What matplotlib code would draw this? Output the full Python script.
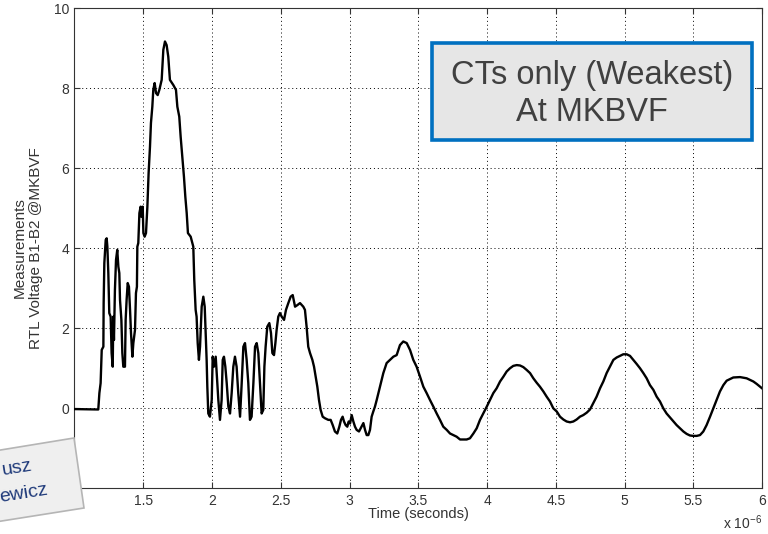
import matplotlib
matplotlib.use('Agg')
import matplotlib.pyplot as plt
import numpy as np

plt.rcParams['font.family'] = ['Liberation Sans', 'DejaVu Sans']
plt.rcParams['mathtext.default'] = 'regular'

# time in microseconds, voltage
burst_t = [1.000, 1.173, 1.181, 1.190, 1.198, 1.210, 1.212, 1.217, 1.227, 1.234,
           1.239, 1.246, 1.253, 1.263, 1.270, 1.278, 1.282, 1.287, 1.294, 1.302,
           1.311, 1.319, 1.326, 1.331, 1.341, 1.348, 1.355, 1.367, 1.372, 1.379,
           1.387, 1.396, 1.404, 1.411, 1.421, 1.428, 1.440, 1.447, 1.454]
burst_v = [-0.02, -0.03, 0.38, 0.63, 1.46, 1.54, 2.63, 3.63, 4.21, 4.25,
           4.04, 3.38, 2.38, 2.29, 1.38, 1.04, 2.29, 1.71, 2.96, 3.71,
           3.96, 3.54, 3.38, 2.71, 2.21, 1.38, 1.04, 1.04, 2.21, 2.71,
           3.13, 3.04, 2.46, 1.88, 1.29, 1.63, 1.96, 2.88, 3.04]

peak_t = [1.457, 1.464, 1.472, 1.481, 1.486, 1.496, 1.501, 1.510, 1.520, 1.530,
          1.539, 1.549, 1.556, 1.566, 1.573, 1.583, 1.593, 1.605, 1.617, 1.634,
          1.646, 1.658, 1.670, 1.682, 1.694, 1.719, 1.738, 1.748, 1.762, 1.772,
          1.784, 1.796, 1.806, 1.816, 1.825, 1.845, 1.864, 1.871, 1.881, 1.888,
          1.896, 1.905, 1.913, 1.925, 1.937, 1.947, 1.954, 1.961]
peak_v = [4.04, 4.13, 4.88, 5.04, 4.79, 5.04, 4.38, 4.29, 4.38, 5.04,
          5.88, 6.54, 7.13, 7.54, 7.96, 8.13, 7.88, 7.83, 7.96, 8.21,
          8.96, 9.17, 9.08, 8.79, 8.21, 8.08, 7.96, 7.54, 7.29, 6.79,
          6.29, 5.79, 5.29, 4.88, 4.38, 4.29, 4.04, 3.21, 2.46, 2.29,
          1.63, 1.21, 1.54, 2.54, 2.79, 2.54, 1.88, 1.21]

ring_t = [1.966, 1.973, 1.985, 1.998, 2.005, 2.014, 2.027, 2.034, 2.046, 2.058,
          2.070, 2.078, 2.087, 2.097, 2.107, 2.119, 2.131, 2.143, 2.155, 2.167,
          2.179, 2.191, 2.204, 2.216, 2.228, 2.240, 2.252, 2.264, 2.276, 2.288,
          2.301, 2.313, 2.325, 2.337, 2.349, 2.361, 2.373]
ring_v = [0.54, -0.13, -0.21, 0.21, 1.29, 1.04, 1.29, 0.88, 0.21, -0.29,
          0.21, 1.21, 1.29, 1.04, 0.63, 0.04, -0.13, 0.38, 1.04, 1.29,
          1.04, 0.38, -0.21, 0.63, 1.54, 1.63, 1.21, 0.63, -0.29, -0.21,
          0.63, 1.54, 1.63, 1.38, 0.63, -0.13, -0.04]

hump_t = [2.381, 2.390, 2.402, 2.417, 2.429, 2.439, 2.451, 2.461, 2.470, 2.482,
          2.494, 2.507, 2.524, 2.538, 2.555, 2.572, 2.587, 2.604, 2.621, 2.640,
          2.664, 2.676, 2.688, 2.700, 2.713, 2.730, 2.742, 2.754, 2.766, 2.778,
          2.790, 2.805, 2.822, 2.846, 2.863, 2.878, 2.894, 2.911, 2.926, 2.938,
          2.950, 2.960, 2.972, 2.984, 2.994, 3.004, 3.016, 3.028, 3.040, 3.052,
          3.069]
hump_v = [1.04, 1.54, 2.04, 2.13, 1.88, 1.38, 1.33, 1.63, 1.96, 2.29,
          2.38, 2.29, 2.21, 2.46, 2.63, 2.79, 2.83, 2.54, 2.58, 2.63,
          2.54, 2.46, 2.04, 1.54, 1.38, 1.21, 1.04, 0.79, 0.54, 0.21,
          -0.04, -0.21, -0.25, -0.29, -0.29, -0.42, -0.58, -0.63, -0.46, -0.29,
          -0.21, -0.33, -0.42, -0.46, -0.33, -0.38, -0.17, -0.33, -0.46, -0.54,
          -0.58]

tail_t = [3.101, 3.113, 3.125, 3.137, 3.149, 3.161, 3.173, 3.185, 3.198, 3.222,
          3.246, 3.270, 3.294, 3.319, 3.343, 3.367, 3.391, 3.416, 3.440, 3.464,
          3.488, 3.513, 3.537, 3.561, 3.585, 3.610, 3.634, 3.658, 3.682, 3.707,
          3.731, 3.755, 3.779, 3.804, 3.852, 3.876, 3.901, 3.925, 3.949, 3.973,
          3.998, 4.022, 4.046, 4.070, 4.095, 4.119, 4.143, 4.167, 4.191, 4.216,
          4.240, 4.264, 4.288, 4.313, 4.337, 4.361, 4.385, 4.410, 4.434, 4.458,
          4.482, 4.507, 4.531, 4.555, 4.579, 4.604, 4.628, 4.652, 4.676, 4.700,
          4.725, 4.749, 4.773, 4.797, 4.822, 4.846, 4.870, 4.894, 4.919, 4.943,
          4.967, 4.991, 5.016, 5.040, 5.064, 5.088, 5.113, 5.137, 5.161, 5.185,
          5.210, 5.234, 5.258, 5.282, 5.306, 5.331, 5.355, 5.379, 5.403, 5.428,
          5.452, 5.476, 5.500, 5.525, 5.549, 5.573, 5.597, 5.622, 5.646, 5.670,
          5.694, 5.719, 5.743, 5.767, 5.791, 5.840, 5.888, 5.912, 5.937, 5.961,
          6.000]
tail_v = [-0.37, -0.54, -0.67, -0.67, -0.54, -0.21, -0.08, 0.04, 0.21, 0.54,
          0.88, 1.13, 1.21, 1.29, 1.33, 1.58, 1.67, 1.63, 1.46, 1.21,
          1.04, 0.79, 0.54, 0.38, 0.21, 0.04, -0.13, -0.29, -0.46, -0.54,
          -0.63, -0.67, -0.71, -0.78, -0.78, -0.75, -0.63, -0.50, -0.29, -0.13,
          0.04, 0.21, 0.38, 0.50, 0.67, 0.79, 0.92, 1.00, 1.06, 1.08,
          1.07, 1.03, 0.96, 0.88, 0.75, 0.64, 0.54, 0.42, 0.29, 0.17,
          0.00, -0.08, -0.21, -0.28, -0.33, -0.35, -0.33, -0.28, -0.21, -0.17,
          -0.11, -0.03, 0.13, 0.29, 0.50, 0.67, 0.88, 1.04, 1.21, 1.27,
          1.31, 1.35, 1.35, 1.31, 1.21, 1.11, 1.00, 0.88, 0.75, 0.58,
          0.46, 0.29, 0.17, 0.00, -0.13, -0.23, -0.33, -0.42, -0.50, -0.58,
          -0.64, -0.68, -0.69, -0.69, -0.67, -0.58, -0.42, -0.21, 0.00, 0.21,
          0.42, 0.58, 0.69, 0.73, 0.77, 0.78, 0.75, 0.71, 0.67, 0.61,
          0.50]

x_ticks = [1.5, 2, 2.5, 3, 3.5, 4, 4.5, 5, 5.5, 6]
x_ticklabels = ['1.5', '2', '2.5', '3', '3.5', '4', '4.5', '5', '5.5', '6']
y_ticks = [0, 2, 4, 6, 8, 10]

t = np.concatenate([burst_t, peak_t, ring_t, hump_t, tail_t])
v = np.concatenate([burst_v, peak_v, ring_v, hump_v, tail_v])

fig = plt.figure(figsize=(7.68, 5.34), dpi=100)
ax = fig.add_axes([0.097, 0.0856, 0.8952, 0.8989])

ax.plot(t, v, color='k', lw=1.7, zorder=3)

ax.set_xlim(1, 6)
ax.set_ylim(-2, 10)
ax.set_xticks(x_ticks)
ax.set_xticklabels(x_ticklabels)
ax.set_yticks(y_ticks)
ax.grid(True, color='k', linestyle=(0, (1, 3)), linewidth=0.7)
ax.tick_params(direction='in', top=True, right=True, length=4, width=0.8,
               color='#333333', labelcolor='#333333', labelsize=10, pad=4)
for s in ax.spines.values():
    s.set_color('#333333')
    s.set_linewidth(0.8)

# labels (matlab style)
fig.text(28 / 768, 1 - 248 / 534, 'Measurements\nRTL Voltage B1-B2 @MKBVF',
         rotation=90, ha='center', va='center', fontsize=11, color='#333333')
fig.text(418 / 768, 1 - 514 / 534, 'Time (seconds)', ha='center', va='center',
         fontsize=10.5, color='#333333')
fig.text(762 / 768, 1 - 523 / 534, 'x 10$^{-6}$', ha='right', va='center',
         fontsize=10, color='#333333')

# annotation box
ax.add_patch(plt.Rectangle((0.52, 0.7256), 0.4655, 0.2024, transform=ax.transAxes,
                           facecolor='#E6E6E6', edgecolor='#0070C0', lw=2.6, zorder=5))
ax.text(0.753, 0.822, 'CTs only (Weakest)\nAt MKBVF', transform=ax.transAxes,
        ha='center', va='center', fontsize=23.5, color='#404040', linespacing=1.25, zorder=6)

# slide name tag in the corner
corners = np.array([[-30, 455], [74, 438], [84, 508], [-30, 526]], dtype=float)
corners[:, 0] /= 768
corners[:, 1] = 1 - corners[:, 1] / 534
fig.add_artist(plt.Polygon(corners, closed=True, transform=fig.transFigure,
                           facecolor='#EFEFEF', edgecolor='#B5B5B5', lw=1.2, zorder=10))
fig.text(32 / 768, 1 - 466 / 534, 'usz', ha='right', va='center', rotation=9,
         rotation_mode='anchor', fontsize=14, color='#1F3A7A', zorder=11)
fig.text(48 / 768, 1 - 490 / 534, 'ewicz', ha='right', va='center', rotation=9,
         rotation_mode='anchor', fontsize=14, color='#1F3A7A', zorder=11)

fig.savefig('out.png', dpi=100)
